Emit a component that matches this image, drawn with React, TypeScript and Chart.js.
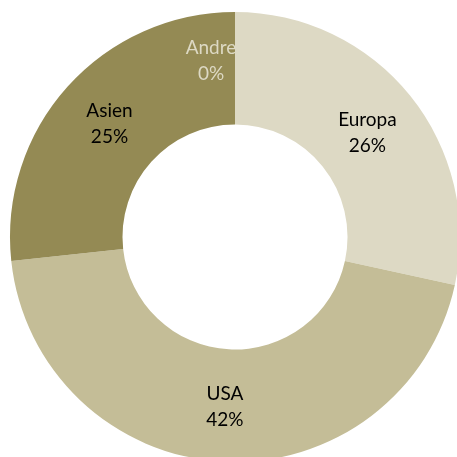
import React, { useEffect, useRef } from "react";
import { Chart, registerables } from "chart.js";

Chart.register(...registerables);

const categories = ["Europa", "USA", "Asien", "Andre"];
const values = [26.4, 41.7, 24.8, 0];
const sliceColors = ["#DDD9C4", "#C4BD97", "#948A54", "#948A54"];
const labelColors = ["#000000", "#000000", "#000000", "#DDD9C4"];
const labelOffsetX = [1, -1, 0, -24];
const labelOffsetY = [2, 1, 0, -7];

const labelPlugin = {
  id: "sliceLabels",
  afterDatasetsDraw(chart: any) {
    const ctx = chart.ctx;
    const meta = chart.getDatasetMeta(0);
    ctx.save();
    ctx.font = "19px Lato";
    ctx.textAlign = "center";
    ctx.textBaseline = "middle";
    meta.data.forEach((arc: any, i: number) => {
      const p = arc.getProps(["x", "y", "startAngle", "endAngle", "innerRadius", "outerRadius"], true);
      const mid = (p.startAngle + p.endAngle) / 2;
      const r = (p.innerRadius + p.outerRadius) / 2;
      const x = p.x + Math.cos(mid) * r + labelOffsetX[i];
      const y = p.y + Math.sin(mid) * r + labelOffsetY[i];
      ctx.fillStyle = labelColors[i];
      ctx.fillText(categories[i], x, y - 13);
      ctx.fillText(Math.round(values[i]) + "%", x, y + 13);
    });
    ctx.restore();
  },
};

export default function App() {
  const ref = useRef<HTMLCanvasElement | null>(null);
  useEffect(() => {
    document.body.style.margin = "0";
    document.body.style.overflow = "hidden";
    const chart = new Chart(ref.current as HTMLCanvasElement, {
      type: "doughnut",
      data: {
        labels: categories,
        datasets: [
          {
            data: values,
            backgroundColor: sliceColors,
            borderWidth: 0,
          },
        ],
      },
      options: {
        responsive: false,
        animation: false,
        cutout: "50%",
        layout: { padding: { left: 10, right: 10, top: 12, bottom: 12 } },
        plugins: {
          legend: { display: false },
          tooltip: { enabled: false },
        },
      },
      plugins: [labelPlugin],
    });
    return () => chart.destroy();
  }, []);
  return (
    <div style={{ position: "fixed", left: 0, top: 0, width: 457, height: 457, overflow: "hidden", background: "#fff" }}>
      <canvas ref={ref} width={470} height={474} style={{ display: "block" }} />
    </div>
  );
}
